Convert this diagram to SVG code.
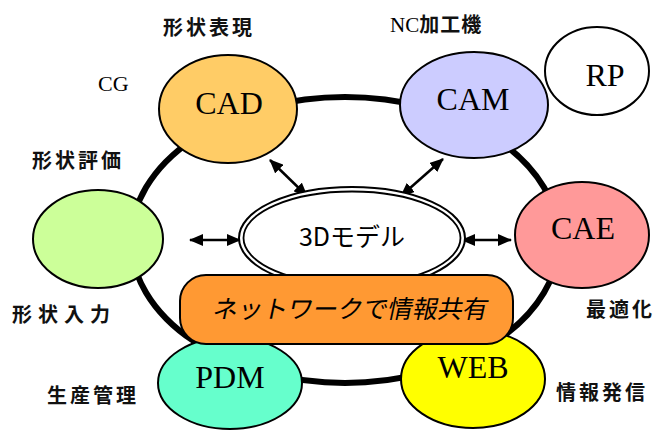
<svg xmlns="http://www.w3.org/2000/svg" width="658" height="430" viewBox="0 0 658 430">
<style>
.node{stroke:#000;stroke-width:2}
.lbl{font-family:"Liberation Serif",serif;font-size:32px;text-anchor:middle;fill:#000}
.jp{font-family:"Noto Sans CJK JP","Noto Sans",sans-serif;font-size:20px;font-weight:bold;fill:#111;letter-spacing:3px}
.ar{stroke:#000;stroke-width:2.5;fill:none;marker-start:url(#ah);marker-end:url(#ah)}
</style>
<defs>
<marker id="ah" viewBox="0 0 14 12" refX="13" refY="6" markerWidth="14" markerHeight="12" orient="auto-start-reverse" markerUnits="userSpaceOnUse">
<path d="M0,0 L14,6 L0,12 z" fill="#000"/>
</marker>
</defs>
<rect width="658" height="430" fill="#fff"/>
<g id="connectors">
<ellipse cx="345" cy="240" rx="214" ry="143" fill="none" stroke="#000" stroke-width="6"/>
<line class="ar" x1="270" y1="160" x2="307" y2="196"/>
<line class="ar" x1="443" y1="159" x2="401" y2="196"/>
<line class="ar" x1="190" y1="240" x2="240" y2="240"/>
<line class="ar" x1="462" y1="240" x2="511" y2="240"/>
</g>
<g id="model3d">
<ellipse cx="352" cy="238" rx="113" ry="51" fill="#fff" stroke="#000" stroke-width="2"/>
<ellipse cx="352" cy="238" rx="108.5" ry="46.5" fill="#fff" stroke="#000" stroke-width="1.8"/>
<text x="352" y="246" font-family="Noto Sans CJK JP,sans-serif" font-size="25" text-anchor="middle">3Dモデル</text>
</g>
<g id="cad">
<ellipse class="node" cx="228" cy="109" rx="69" ry="54" fill="#FFCC66"/>
<text class="lbl" x="229" y="114">CAD</text>
</g>
<g id="cam">
<ellipse class="node" cx="474" cy="105" rx="74" ry="53" fill="#CCCCFF"/>
<text class="lbl" x="473" y="110">CAM</text>
</g>
<g id="rp">
<ellipse class="node" cx="597" cy="71" rx="52" ry="44" fill="#fff"/>
<text class="lbl" x="605" y="86">RP</text>
</g>
<g id="shape">
<ellipse class="node" cx="98" cy="239" rx="65" ry="49" fill="#CCFF99"/>
</g>
<g id="cae">
<ellipse class="node" cx="582" cy="235" rx="67" ry="53" fill="#FF9999"/>
<text class="lbl" x="583" y="239">CAE</text>
</g>
<g id="pdm">
<ellipse class="node" cx="230" cy="383" rx="72" ry="46" fill="#66FFCC"/>
<text class="lbl" x="230" y="388">PDM</text>
</g>
<g id="web">
<ellipse class="node" cx="473" cy="379" rx="72" ry="49" fill="#FFFF00"/>
<text class="lbl" x="473" y="378">WEB</text>
</g>
<g id="network">
<rect x="180" y="275" width="333" height="69" rx="26" fill="#FF9933" stroke="#000" stroke-width="2"/>
<text x="349" y="318" font-family="Noto Sans CJK JP,sans-serif" font-size="25" text-anchor="middle" transform="translate(349 318) skewX(-12) translate(-349 -318)">ネットワークで情報共有</text>
</g>
<g id="labels">
<text class="jp" x="163" y="35">形状表現</text>
<text x="98" y="91" font-family="Liberation Serif,serif" font-size="22">CG</text>
<text class="jp" x="32" y="168">形状評価</text>
<text class="jp" x="12" y="322" style="letter-spacing:6px">形状入力</text>
<text class="jp" x="47" y="403">生産管理</text>
<text x="390" y="32"><tspan font-family="Liberation Serif,serif" font-size="21">NC</tspan><tspan class="jp" style="letter-spacing:1px">加工機</tspan></text>
<text class="jp" x="586" y="317">最適化</text>
<text class="jp" x="556" y="400">情報発信</text>
</g>
</svg>
